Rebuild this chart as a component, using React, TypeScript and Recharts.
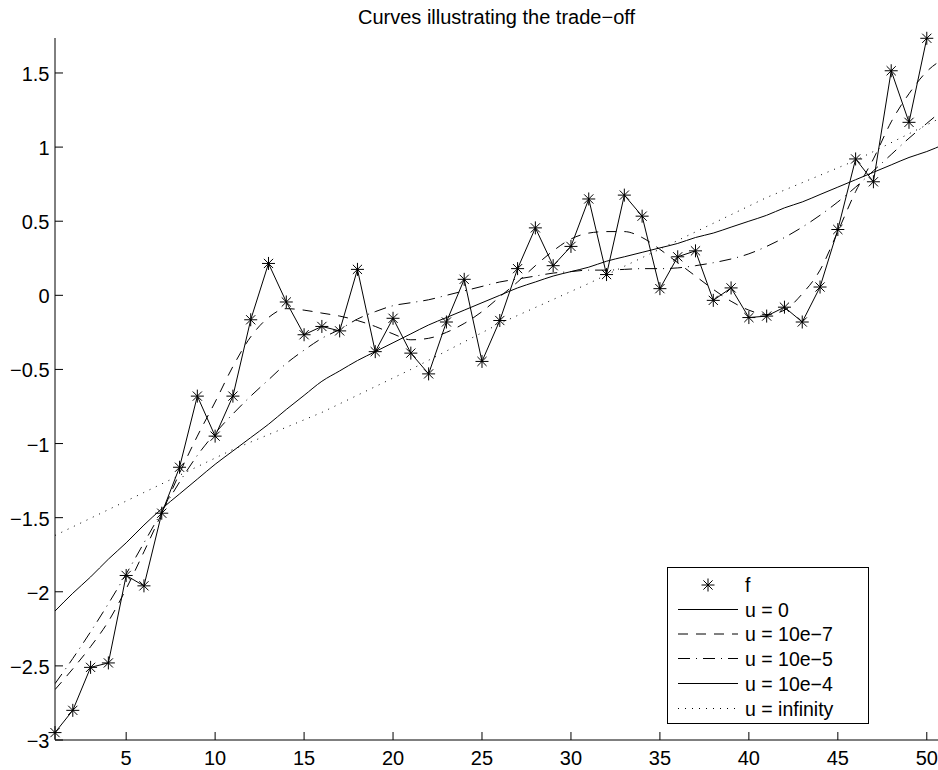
import React from 'react';
import { LineChart, Line, XAxis, YAxis, Legend } from 'recharts';

const FONT = '"Liberation Sans", Arial, Helvetica, sans-serif';

const xs = [
  1, 2, 3, 4, 5, 6, 7, 8, 9, 10, 11, 12, 13, 14, 15, 16, 17, 18, 19, 20, 21, 22, 23, 24, 25,
  26, 27, 28, 29, 30, 31, 32, 33, 34, 35, 36, 37, 38, 39, 40, 41, 42, 43, 44, 45, 46, 47, 48,
  49, 50, 51,
];

// f: the noisy samples (also the u = 0 interpolant)
const fData = [
  -2.95, -2.8, -2.51, -2.48, -1.89, -1.96, -1.47, -1.16, -0.68, -0.95, -0.68, -0.165, 0.215,
  -0.045, -0.266, -0.21, -0.24, 0.175, -0.38, -0.155, -0.39, -0.53, -0.18, 0.108, -0.446, -0.17,
  0.18, 0.455, 0.2, 0.33, 0.65, 0.14, 0.676, 0.534, 0.045, 0.26, 0.3, -0.034, 0.05, -0.15, -0.14,
  -0.08, -0.18, 0.056, 0.444, 0.92, 0.766, 1.515, 1.167, 1.734,
];

// u = 10e-7 (dashed)
const u7 = [
  -2.66, -2.52, -2.37, -2.2, -1.98, -1.73, -1.47, -1.2, -0.95, -0.72, -0.48, -0.28, -0.15, -0.09,
  -0.1, -0.12, -0.14, -0.17, -0.21, -0.26, -0.3, -0.29, -0.25, -0.19, -0.11, -0.01, 0.09, 0.2,
  0.3, 0.38, 0.42, 0.43, 0.43, 0.39, 0.31, 0.22, 0.13, 0.04, -0.04, -0.1, -0.13, -0.1, 0.01,
  0.17, 0.43, 0.7, 0.92, 1.17, 1.36, 1.51, 1.6,
];

// u = 10e-5 (dash-dot)
const u5 = [
  -2.62, -2.45, -2.27, -2.08, -1.88, -1.67, -1.46, -1.26, -1.08, -0.93, -0.8, -0.68, -0.57,
  -0.46, -0.37, -0.29, -0.23, -0.16, -0.11, -0.07, -0.05, -0.03, 0.0, 0.03, 0.06, 0.09, 0.11,
  0.13, 0.15, 0.16, 0.17, 0.17, 0.175, 0.18, 0.18, 0.185, 0.2, 0.22, 0.245, 0.28, 0.33, 0.39,
  0.46, 0.54, 0.63, 0.73, 0.84, 0.95, 1.06, 1.16, 1.26,
];

// u = 10e-4 (smooth solid)
const u4 = [
  -2.13, -2.01, -1.9, -1.78, -1.67, -1.55, -1.44, -1.34, -1.24, -1.14, -1.05, -0.96, -0.87,
  -0.77, -0.675, -0.58, -0.51, -0.44, -0.38, -0.32, -0.26, -0.2, -0.15, -0.1, -0.05, 0.0, 0.05,
  0.09, 0.13, 0.16, 0.19, 0.23, 0.26, 0.29, 0.32, 0.35, 0.39, 0.42, 0.46, 0.5, 0.54, 0.59, 0.63,
  0.68, 0.73, 0.78, 0.83, 0.88, 0.93, 0.97, 1.02,
];

// u = infinity (dotted, nearly straight)
const uInfX = [1, 6, 11, 16, 21, 26, 31, 36, 41, 46, 51];
const uInf = [-1.62, -1.33, -1.04, -0.79, -0.5, -0.19, 0.08, 0.37, 0.66, 0.91, 1.21];

const xTicks = [5, 10, 15, 20, 25, 30, 35, 40, 45, 50];
const yTicks = [-3, -2.5, -2, -1.5, -1, -0.5, 0, 0.5, 1, 1.5];

const legendNames = ['f', 'u = 0', 'u = 10e\u22127', 'u = 10e\u22125', 'u = 10e\u22124', 'u = infinity'];
const legendDash = ['', '', '10 8', '12 6 1 6', '', '1 6'];

// samples live on the top axis, smooth curves (which run past the frame) on the bottom one
const fRows = fData.map((v, i) => ({ x: xs[i], f: v }));
const curveRows = xs.map((x, i) => ({ x, u7: u7[i], u5: u5[i], u4: u4[i] }));
const infRows = uInfX.map((x, i) => ({ x, uinf: uInf[i] }));

const fmt = (v: number) => (v < 0 ? '\u2212' + Math.abs(v) : String(v));

const Star = (p: any) => {
  const { cx, cy, index } = p;
  if (cx == null || cy == null) return <g key={`s-${index}`} />;
  const r = 6.5;
  const d = 4.6;
  return (
    <g key={`s-${index}`} stroke="#000" strokeWidth={1}>
      <line x1={cx - r} x2={cx + r} y1={cy} y2={cy} />
      <line x1={cx} x2={cx} y1={cy - r} y2={cy + r} />
      <line x1={cx - d} x2={cx + d} y1={cy - d} y2={cy + d} />
      <line x1={cx - d} x2={cx + d} y1={cy + d} y2={cy - d} />
    </g>
  );
};

const BottomTick = (p: any) => (
  <g>
    <line x1={p.x} x2={p.x} y1={p.y} y2={p.y - 8} stroke="#000" />
    <text x={p.x} y={p.y + 24.5} textAnchor="middle" fontSize={20} fontFamily={FONT} fill="#000">
      {p.payload.value}
    </text>
  </g>
);

const LeftTick = (p: any) => (
  <g>
    <line x1={p.x} x2={p.x + 8} y1={p.y} y2={p.y} stroke="#000" />
    <text x={p.x - 5.5} y={p.y + 8} textAnchor="end" fontSize={20} fontFamily={FONT} fill="#000">
      {fmt(p.payload.value)}
    </text>
  </g>
);

const TopTick = (p: any) => <line x1={p.x} x2={p.x} y1={p.y} y2={p.y + 8} stroke="#000" />;
const RightTick = (p: any) => <line x1={p.x - 8} x2={p.x} y1={p.y} y2={p.y} stroke="#000" />;

const rowY = [18, 42.5, 67, 91.5, 116.5, 141.5];

const LegendBox = () => (
  <svg width={202} height={157} style={{ display: 'block' }}>
    <rect x={0.5} y={0.5} width={201} height={156} fill="#fff" stroke="#000" />
    {legendNames.map((name, i) => (
      <g key={name}>
        {i === 0 ? (
          <Star cx={41} cy={rowY[i]} index="legend" />
        ) : (
          <line
            x1={11}
            x2={71}
            y1={rowY[i]}
            y2={rowY[i]}
            stroke="#000"
            strokeDasharray={legendDash[i] || undefined}
          />
        )}
        <text x={78} y={rowY[i] + 7} fontSize={19.5} fontFamily={FONT} fill="#000">
          {name}
        </text>
      </g>
    ))}
  </svg>
);

export default function App() {
  return (
    <div style={{ position: 'absolute', left: 0, top: 0, width: 938, height: 770, background: '#fff', fontFamily: FONT }}>
      <div
        style={{
          position: 'absolute',
          left: 55,
          width: 883,
          top: 7,
          textAlign: 'center',
          fontSize: 20,
          lineHeight: '20px',
          color: '#000',
        }}
      >
        Curves illustrating the trade{'\u2212'}off
      </div>
      <LineChart width={938} height={770} margin={{ top: 38, right: 0, bottom: 0, left: 0 }}>
        <XAxis
          xAxisId="b"
          dataKey="x"
          type="number"
          domain={[1, 50.63]}
          allowDataOverflow
          ticks={xTicks}
          interval={0}
          height={30}
          tickSize={0}
          tickMargin={0}
          tick={BottomTick}
          axisLine={{ stroke: '#000' }}
        />
        <XAxis
          xAxisId="t"
          orientation="top"
          dataKey="x"
          type="number"
          domain={[1, 50.63]}
          ticks={xTicks}
          interval={0}
          height={0}
          tickSize={0}
          tickMargin={0}
          tick={TopTick}
          axisLine={{ stroke: '#000' }}
        />
        <YAxis
          yAxisId="l"
          type="number"
          domain={[-3, 1.736]}
          ticks={yTicks}
          interval={0}
          width={55}
          tickSize={0}
          tickMargin={0}
          tick={LeftTick}
          axisLine={{ stroke: '#000' }}
        />
        <YAxis
          yAxisId="r"
          orientation="right"
          type="number"
          domain={[-3, 1.736]}
          allowDataOverflow
          ticks={yTicks}
          interval={0}
          width={0}
          tickSize={0}
          tickMargin={0}
          tick={RightTick}
          axisLine={{ stroke: '#000' }}
        />
        <Line data={infRows} xAxisId="b" yAxisId="l" dataKey="uinf" type="linear" stroke="#000" strokeWidth={1} strokeDasharray="1 6" dot={false} activeDot={false} isAnimationActive={false} />
        <Line data={curveRows} xAxisId="b" yAxisId="l" dataKey="u4" type="monotone" stroke="#000" strokeWidth={1} dot={false} activeDot={false} isAnimationActive={false} />
        <Line data={curveRows} xAxisId="b" yAxisId="l" dataKey="u5" type="monotone" stroke="#000" strokeWidth={1} strokeDasharray="12 6 1 6" dot={false} activeDot={false} isAnimationActive={false} />
        <Line data={curveRows} xAxisId="b" yAxisId="l" dataKey="u7" type="monotone" stroke="#000" strokeWidth={1} strokeDasharray="10 8" dot={false} activeDot={false} isAnimationActive={false} />
        <Line data={fRows} xAxisId="t" yAxisId="l" dataKey="f" type="linear" stroke="#000" strokeWidth={1} dot={false} activeDot={false} isAnimationActive={false} />
        <Line data={fRows} xAxisId="t" yAxisId="l" dataKey="f" type="linear" stroke="none" dot={Star} activeDot={false} isAnimationActive={false} />
        <Legend
          layout="vertical"
          align="center"
          verticalAlign="middle"
          content={() => <LegendBox />}
          wrapperStyle={{ left: 667, top: 567, width: 202, height: 157 }}
        />
      </LineChart>
    </div>
  );
}
